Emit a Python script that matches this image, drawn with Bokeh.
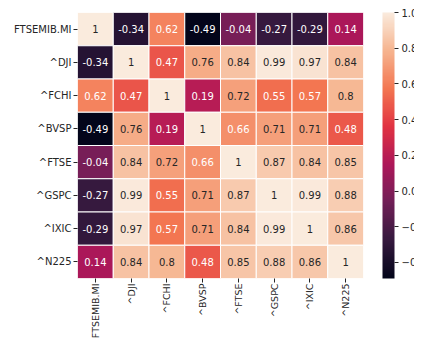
import math
from bokeh.plotting import figure
from bokeh.models import (ColumnDataSource, FactorRange, LinearColorMapper, ColorBar,
                          FixedTicker)
from bokeh.core.properties import value
from bokeh.embed import file_html
from bokeh.resources import INLINE

# ---- data ----
labels = ["FTSEMIB.MI", "^DJI", "^FCHI", "^BVSP", "^FTSE", "^GSPC", "^IXIC", "^N225"]
row_ftsemib = [1.00, -0.34, 0.62, -0.49, -0.04, -0.27, -0.29, 0.14]
row_dji = [-0.34, 1.00, 0.47, 0.76, 0.84, 0.99, 0.97, 0.84]
row_fchi = [0.62, 0.47, 1.00, 0.19, 0.72, 0.55, 0.57, 0.80]
row_bvsp = [-0.49, 0.76, 0.19, 1.00, 0.66, 0.71, 0.71, 0.48]
row_ftse = [-0.04, 0.84, 0.72, 0.66, 1.00, 0.87, 0.84, 0.85]
row_gspc = [-0.27, 0.99, 0.55, 0.71, 0.87, 1.00, 0.99, 0.88]
row_ixic = [-0.29, 0.97, 0.57, 0.71, 0.84, 0.99, 1.00, 0.86]
row_n225 = [0.14, 0.84, 0.80, 0.48, 0.85, 0.88, 0.86, 1.00]
corr = [row_ftsemib, row_dji, row_fchi, row_bvsp, row_ftse, row_gspc, row_ixic, row_n225]
cbar_ticks = [-0.4, -0.2, 0.0, 0.2, 0.4, 0.6, 0.8, 1.0]

# ---- rocket-like palette ----
anchors = ["#03051a", "#35193e", "#701f57", "#ad1759", "#e13342", "#f37651", "#f6b48f", "#faebdd"]
def hex2rgb(h):
    return tuple(int(h[i:i + 2], 16) for i in (1, 3, 5))
anc_rgb = [hex2rgb(h) for h in anchors]
N = 256
palette = []
palette_rgb = []
for i in range(N):
    t = i / (N - 1) * (len(anchors) - 1)
    k = min(int(t), len(anchors) - 2)
    f = t - k
    c = tuple(round(anc_rgb[k][j] + (anc_rgb[k + 1][j] - anc_rgb[k][j]) * f) for j in range(3))
    palette_rgb.append(c)
    palette.append("#%02x%02x%02x" % c)

low = min(min(r) for r in corr)
high = max(max(r) for r in corr)

def lum(c):
    out = []
    for v in c:
        v = v / 255
        out.append(v / 12.92 if v <= 0.03928 else ((v + 0.055) / 1.055) ** 2.4)
    return 0.2126 * out[0] + 0.7152 * out[1] + 0.0722 * out[2]

xs, ys, vals, txt, tcol = [], [], [], [], []
for i, rname in enumerate(labels):
    for j, cname in enumerate(labels):
        v = corr[i][j]
        xs.append(cname)
        ys.append(rname)
        vals.append(v)
        txt.append("{:.2g}".format(v))
        idx = min(N - 1, max(0, int(math.floor((v - low) / (high - low) * N))))
        tcol.append("#262626" if lum(palette_rgb[idx]) > 0.408 else "#ffffff")

src = ColumnDataSource(dict(x=xs, y=ys, v=vals, t=txt, tc=tcol))
mapper = LinearColorMapper(palette=palette, low=low, high=high)

p = figure(width=414, height=341, output_backend="svg", toolbar_location=None,
           x_range=FactorRange(factors=labels),
           y_range=FactorRange(factors=list(reversed(labels))),
           min_border_left=77, min_border_top=12, min_border_right=51, min_border_bottom=63)
p.rect(x="x", y="y", width=1, height=1, source=src,
       fill_color={"field": "v", "transform": mapper}, line_color="white", line_width=1)
p.text(x="x", y="y", text="t", source=src, text_color="tc", text_align="center",
       text_baseline="middle", text_font=value("DejaVu Sans"), text_font_size="10px")

p.grid.visible = False
p.outline_line_color = None
p.background_fill_color = "white"
for ax in (p.xaxis, p.yaxis):
    ax.axis_line_color = None
    ax.major_tick_in = 0
    ax.major_tick_out = 4
    ax.major_tick_line_color = "#262626"
    ax.minor_tick_line_color = None
    ax.major_label_text_font = "DejaVu Sans"
    ax.major_label_text_font_size = "10px"
    ax.major_label_text_color = "#262626"
    ax.major_label_standoff = 2
p.xaxis.major_label_orientation = math.pi / 2
p.xaxis.major_label_text_font_size = "9.5px"
p.xaxis.major_label_standoff = 1

cb = ColorBar(color_mapper=mapper, width=12, height=266, location=(305, 0), padding=0,
              ticker=FixedTicker(ticks=cbar_ticks),
              major_label_overrides={t: ("{:.1f}".format(t).replace("-", "\u2212")) for t in cbar_ticks},
              major_tick_in=0, major_tick_out=4, major_tick_line_color="#262626",
              bar_line_color=None, border_line_color=None, background_fill_color=None,
              label_standoff=3, major_label_text_font="DejaVu Sans",
              major_label_text_font_size="10px", major_label_text_color="#262626")
p.add_layout(cb, "center")

open("out.html", "w").write(file_html(p, INLINE))
